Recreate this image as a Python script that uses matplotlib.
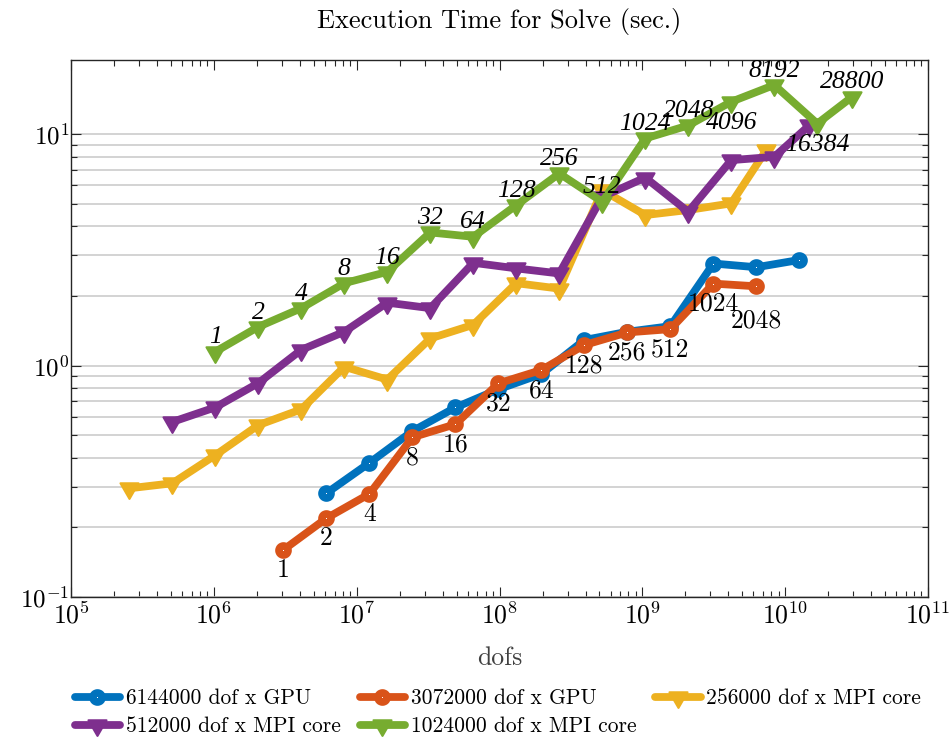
import matplotlib
matplotlib.use("Agg")
import matplotlib.pyplot as plt
import numpy as np
from matplotlib.path import Path
from matplotlib.ticker import LogLocator, FixedLocator, NullFormatter

plt.rcParams['font.family'] = ['cmr10', 'DejaVu Serif']
plt.rcParams['mathtext.fontset'] = 'cm'
plt.rcParams['axes.formatter.use_mathtext'] = True

# dof per unit and unit counts
gpu_counts = [1, 2, 4, 8, 16, 32, 64, 128, 256, 512, 1024, 2048]
mpi_counts = [1, 2, 4, 8, 16, 32, 64, 128, 256, 512, 1024, 2048, 4096, 8192, 16384, 28800]

gpu_6144k = [0.281, 0.380, 0.521, 0.659, 0.79, 0.92, 1.29, 1.40, 1.48, 2.76, 2.66, 2.86]
gpu_3072k = [0.160, 0.219, 0.279, 0.490, 0.558, 0.838, 0.957, 1.227, 1.391, 1.437, 2.26, 2.20]
mpi_256k = [0.295, 0.310, 0.410, 0.553, 0.647, 0.988, 0.87, 1.31, 1.50, 2.27, 2.15, 5.73, 4.47, 4.70, 5.02, 8.53]
mpi_512k = [0.571, 0.66, 0.84, 1.17, 1.40, 1.87, 1.77, 2.78, 2.63, 2.50, 5.36, 6.49, 4.62, 7.72, 7.98, 10.9]
mpi_1024k = [1.148, 1.47, 1.77, 2.27, 2.54, 3.76, 3.60, 4.93, 6.76, 5.1, 9.58, 10.9, 13.8, 16.3, 11.1, 14.5]

series = [
    ("6144000 dof x GPU", 6144000, gpu_counts, gpu_6144k, "#0072BD", "circle"),
    ("3072000 dof x GPU", 3072000, gpu_counts, gpu_3072k, "#D95319", "circle"),
    ("256000 dof x MPI core", 256000, mpi_counts, mpi_256k, "#EDB120", "tri"),
    ("512000 dof x MPI core", 512000, mpi_counts, mpi_512k, "#7E2F8E", "tri"),
    ("1024000 dof x MPI core", 1024000, mpi_counts, mpi_1024k, "#77AC30", "tri"),
]

# pgfplots style triangle, centred on the circumcentre
tri = Path([(0, -1), (-0.866, 0.5), (0.866, 0.5), (0, -1)],
           [Path.MOVETO, Path.LINETO, Path.LINETO, Path.CLOSEPOLY])

fig = plt.figure(figsize=(9.51, 7.40), dpi=100)
ax = fig.add_axes([0.0747, 0.1932, 0.9011, 0.7257])

for label, dof, counts, times, color, mk in series:
    dofs = np.array(counts, dtype=float) * dof
    if mk == "circle":
        ax.plot(dofs, times, color=color, lw=5.6, marker='o', ms=6.5,
                mfc='white', mec=color, mew=5.5, label=label,
                solid_joinstyle='round', solid_capstyle='round')
    else:
        ax.plot(dofs, times, color=color, lw=5.6, marker=tri, ms=15,
                mfc=color, mec=color, mew=1.5, label=label,
                solid_joinstyle='round', solid_capstyle='round')

# count labels (GPU labels below the 3072000 curve)
for c, t in zip(gpu_counts, gpu_3072k):
    dy = -30 if c == 2048 else -19.5
    ax.annotate(str(c), (c * 3072000, t), xytext=(0, dy), textcoords='offset points',
                ha='center', va='baseline', fontsize=18.5)

below = [4096, 16384]
for c, t in zip(mpi_counts, mpi_1024k):
    dy = -19.5 if c in below else 6
    ax.annotate(str(c), (c * 1024000, t), xytext=(0, dy), textcoords='offset points',
                ha='center', va='baseline', fontsize=18.5, style='italic',
                family=['Liberation Serif', 'DejaVu Serif'])

ax.set_xscale('log')
ax.set_yscale('log')
ax.set_xlim(1e5, 1e11)
ax.set_ylim(0.1, 20.9)

ax.xaxis.set_major_locator(LogLocator(base=10, numticks=20))
ax.xaxis.set_minor_locator(LogLocator(base=10, subs=np.arange(2, 10), numticks=20))
ax.xaxis.set_minor_formatter(NullFormatter())
ax.yaxis.set_major_locator(FixedLocator([0.1, 1, 10]))
ax.yaxis.set_minor_locator(FixedLocator([m * 10.0 ** e for e in (-1, 0) for m in range(2, 10)]))
ax.yaxis.set_minor_formatter(NullFormatter())

ax.yaxis.grid(True, which='both', color='#c8c8c8', lw=1.1)
ax.set_axisbelow(True)
ax.tick_params(which='both', direction='in', top=True, right=True, labelsize=18.5,
               color='#262626', width=0.8)
ax.tick_params(axis='y', pad=1.5, labelsize=18)
ax.tick_params(which='major', length=7)
ax.tick_params(which='minor', length=4.5)
for s in ax.spines.values():
    s.set_linewidth(1.0)
    s.set_color('#262626')

ax.set_xlabel("dofs", fontsize=18.5, color='#404040', labelpad=13)
ax.set_title("Execution Time for Solve (sec.)", fontsize=19, pad=23)

# legend filled row by row like the pgfplots one
handles, labels = ax.get_legend_handles_labels()
order = [0, 3, 1, 4, 2]
fig.legend([handles[i] for i in order], [labels[i] for i in order],
           loc='center', bbox_to_anchor=(0.5237, 0.0372), ncol=3, frameon=False,
           fontsize=15.5, numpoints=1, handlelength=2.1, handletextpad=0.27,
           columnspacing=0.88, labelspacing=0.4, borderpad=0.2)

fig.savefig("out.png", dpi=100)
